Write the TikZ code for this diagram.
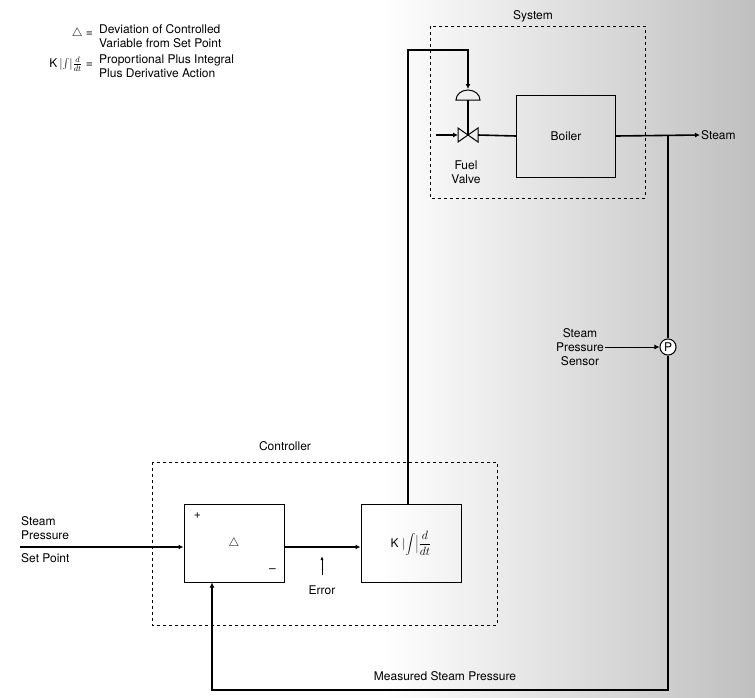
\documentclass[tikz,border=0pt]{standalone}
\usepackage{fontspec}
\setmainfont{TeX Gyre Heros}
\usetikzlibrary{arrows.meta,positioning,calc}

\begin{document}
\begin{tikzpicture}[x=1pt,y=-1pt,font=\large,
  line/.style={line width=1.6pt},
  arr/.style={line width=1.6pt,-{Latex[length=5pt,width=5pt]}},
  block/.style={draw,line width=1pt,minimum width=100pt,minimum height=78pt,inner sep=0pt},
  frame/.style={draw,dashed,line width=0.9pt},
  plain/.style={draw=none,fill=none,align=left,inner sep=1pt}]
% page and halftone background
\useasboundingbox (0,0) rectangle (755,697);
\shade[left color=white,right color=black!25] (380,0) rectangle (755,697);
\fill[white] (0,0) rectangle (380,697);
% legend
\node[plain,anchor=east] (ldelta) at (94,33) {$\triangle$ =};
\node[plain,anchor=north west] (ltxt1) at (98,23) {Deviation of Controlled\\Variable from Set Point};
\node[plain,anchor=east] (lpid) at (94,64) {K$\,|\!\int\!|\frac{d}{dt}$ =};
\node[plain,anchor=north west] (ltxt2) at (98,54) {Proportional Plus Integral\\Plus Derivative Action};
% frames
\draw[frame] (430,26) rectangle (645,198);
\node[plain] (sys) at (533,16) {System};
\draw[frame] (152,462) rectangle (497,625);
\node[plain] (ctl) at (285,446) {Controller};
% blocks
\node[block] (delta) at (234,543) {};
\node[plain] at (delta.center) {$\triangle$};
\node[plain] at ($(delta.north west)+(14,12)$) {+};
\node[plain] at ($(delta.south east)+(-12,-12)$) {--};
\node[block] (pid) at (411,543) {};
\node[plain] (pidtxt) at (pid.center) {K$\;|\!\displaystyle\int\!\Big|\frac{d}{dt}$};
\node[block,minimum width=99pt,minimum height=82pt] (boiler) at (566,136) {Boiler};
% valve and actuator
\coordinate (valve) at (468,135);
\draw[line width=1pt] (valve) -- ++(-10,-7) -- ++(0,14) -- cycle;
\draw[line width=1pt] (valve) -- ++(10,-7) -- ++(0,14) -- cycle;
\draw[line width=1pt] (456,100) arc[start angle=180,end angle=0,x radius=12,y radius=-10] -- cycle;
\node[plain,align=center] (fvl) at (466,172) {Fuel\\Valve};
\coordinate (fuel) at (436,135);
\draw[arr] (fuel) -- (458,135);
\draw[line] (478,135) -- (boiler.west);
\draw[line] (valve) -- (468,100);
% controller output to valve
\coordinate (o1) at (408,50);
\coordinate (o2) at (468,50);
\draw[arr] (pid.north -| o1) -- (o1) -- (o2) -- (468,89);
% steam out
\coordinate (sout) at (700,135);
\draw[arr] (boiler.east) -- (sout);
\node[plain,anchor=west] (stl) at (sout) {Steam};
% sensor and feedback
\node[draw,circle,line width=1pt,inner sep=1.5pt,fill=white] (sens) at (668,347) {P};
\coordinate (t1) at (668,135);
\coordinate (b1) at (668,690);
\coordinate (b2) at (212,690);
\draw[line] (t1) -- (sens);
\draw[arr] (sens) -- (b1) -- (b2) -- (delta.south -| b2);
\node[plain,align=center] (snl) at (580,347) {Steam\\Pressure\\Sensor};
\draw[arr,line width=0.8pt] (snl.east) -- (sens.west);
\node[plain] (msp) at (445,676) {Measured Steam Pressure};
% set point and error
\coordinate (spin) at (20,547);
\draw[arr] (spin) -- (delta.west |- spin);
\node[plain,anchor=south west] (spl) at (20,541) {Steam\\Pressure};
\node[plain,anchor=north west] (spl2) at (20,552) {Set Point};
\draw[arr] (delta.east |- spin) -- (pid.west |- spin);
\coordinate (e1) at (322,575);
\draw[line width=0.8pt,-{Latex[length=4pt]}] (e1) -- (322,556);
\node[plain] (err) at (322,590) {Error};
\end{tikzpicture}
\end{document}
